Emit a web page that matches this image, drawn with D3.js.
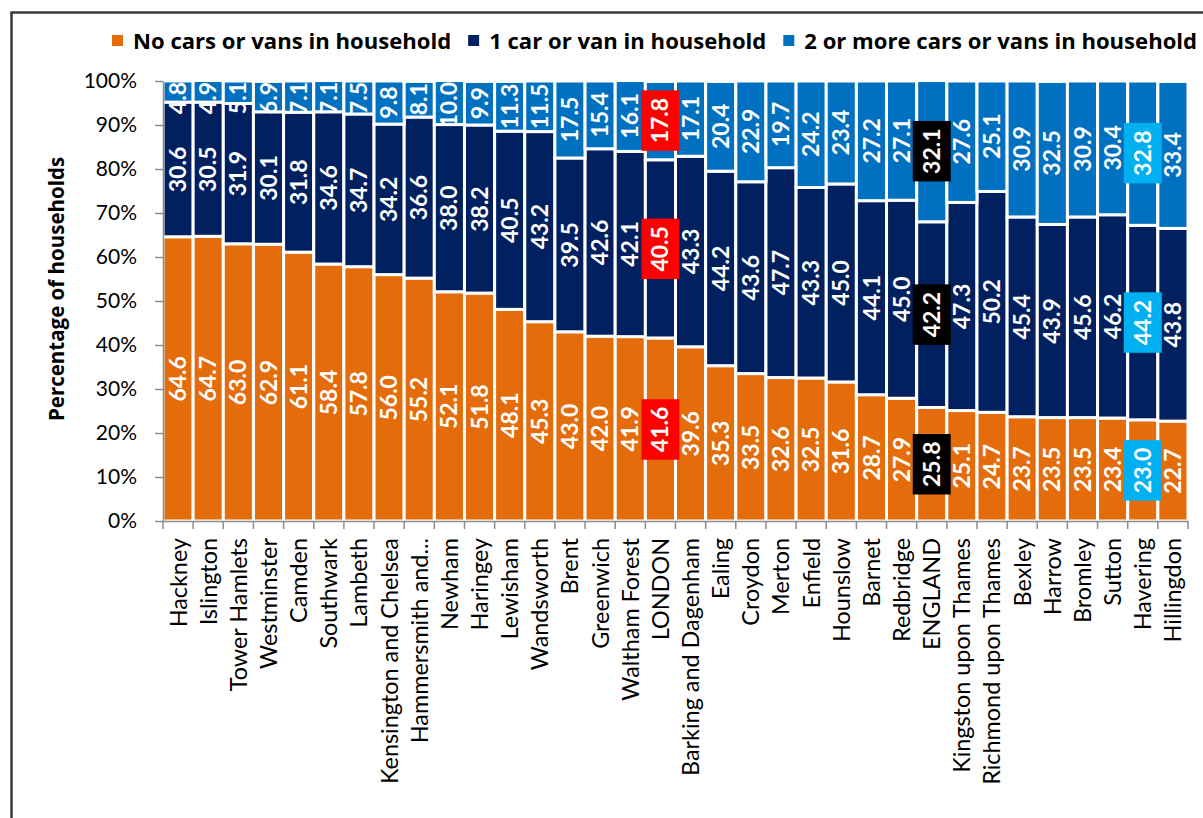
<!DOCTYPE html>
<html>
<head>
<meta charset="utf-8">
<script src="https://cdn.jsdelivr.net/npm/d3@7/dist/d3.min.js"></script>
<style>
  html, body { margin: 0; padding: 0; background: #fff; }
  svg { display: block; font-family: Lato, "Open Sans", sans-serif; }
</style>
</head>
<body>
<script>
// Household car or van availability by borough (per cent of households)
const categories = [
  "Hackney", "Islington", "Tower Hamlets", "Westminster", "Camden", "Southwark",
  "Lambeth", "Kensington and Chelsea", "Hammersmith and...", "Newham", "Haringey",
  "Lewisham", "Wandsworth", "Brent", "Greenwich", "Waltham Forest", "LONDON",
  "Barking and Dagenham", "Ealing", "Croydon", "Merton", "Enfield", "Hounslow",
  "Barnet", "Redbridge", "ENGLAND", "Kingston upon Thames", "Richmond upon Thames",
  "Bexley", "Harrow", "Bromley", "Sutton", "Havering", "Hillingdon"
];
const noCar = [
  64.6, 64.7, 63.0, 62.9, 61.1, 58.4, 57.8, 56.0, 55.2, 52.1, 51.8,
  48.1, 45.3, 43.0, 42.0, 41.9, 41.6, 39.6, 35.3, 33.5, 32.6, 32.5, 31.6,
  28.7, 27.9, 25.8, 25.1, 24.7, 23.7, 23.5, 23.5, 23.4, 23.0, 22.7
];
const oneCar = [
  30.6, 30.5, 31.9, 30.1, 31.8, 34.6, 34.7, 34.2, 36.6, 38.0, 38.2,
  40.5, 43.2, 39.5, 42.6, 42.1, 40.5, 43.3, 44.2, 43.6, 47.7, 43.3, 45.0,
  44.1, 45.0, 42.2, 47.3, 50.2, 45.4, 43.9, 45.6, 46.2, 44.2, 43.8
];
const twoPlusCars = [
  4.8, 4.9, 5.1, 6.9, 7.1, 7.1, 7.5, 9.8, 8.1, 10.0, 9.9,
  11.3, 11.5, 17.5, 15.4, 16.1, 17.8, 17.1, 20.4, 22.9, 19.7, 24.2, 23.4,
  27.2, 27.1, 32.1, 27.6, 25.1, 30.9, 32.5, 30.9, 30.4, 32.8, 33.4
];
const seriesKeys = ["none", "one", "two"];
const seriesLabels = [
  "No cars or vans in household",
  "1 car or van in household",
  "2 or more cars or vans in household"
];
const seriesColors = ["#E46C0A", "#002060", "#0070C0"];
const yTickValues = [0, 10, 20, 30, 40, 50, 60, 70, 80, 90, 100];
// Reference areas whose value labels sit on a coloured box
const highlightColors = { "LONDON": "#FF0000", "ENGLAND": "#000000", "Havering": "#00B0F0" };

const W = 1203, H = 818;
const plot = { left: 163, right: 1188, top: 81, bottom: 521 };

const rows = categories.map((c, i) => ({ cat: c, none: noCar[i], one: oneCar[i], two: twoPlusCars[i] }));
const stacked = d3.stack().keys(seriesKeys)(rows);

const svg = d3.select("body").append("svg").attr("width", W).attr("height", H);
svg.append("rect").attr("width", W).attr("height", H).attr("fill", "#fff");

// frame around the figure
svg.append("path")
  .attr("d", `M11.5,${H} V12.5 H${W}`)
  .attr("fill", "none").attr("stroke", "#3b3b3b").attr("stroke-width", 2.5);

const x = d3.scaleBand().domain(categories).range([plot.left, plot.right]).padding(0);
const y = d3.scaleLinear().domain([0, 100]).range([plot.bottom, plot.top]);
const color = d3.scaleOrdinal().domain(seriesKeys).range(seriesColors);

// stacked bars
const layers = svg.append("g").selectAll("g").data(stacked).join("g")
  .attr("fill", d => color(d.key));
layers.selectAll("rect").data(d => d).join("rect")
  .attr("x", d => x(d.data.cat))
  .attr("width", x.bandwidth())
  .attr("y", d => y(d[1]))
  .attr("height", d => y(d[0]) - y(d[1]))
  .attr("stroke", "#fff").attr("stroke-width", 3);

// y axis
const yAxis = svg.append("g").attr("transform", `translate(${plot.left},0)`)
  .call(d3.axisLeft(y).tickValues(yTickValues).tickFormat(d => d + "%")
    .tickSize(8).tickSizeOuter(0).tickPadding(18));
yAxis.select(".domain").attr("stroke", "#8c8c8c").attr("stroke-width", 1.5);
yAxis.selectAll(".tick line").attr("stroke", "#8c8c8c").attr("stroke-width", 1.5);
yAxis.selectAll(".tick text").attr("font-size", 21).attr("fill", "#000")
  .attr("font-family", "Lato, sans-serif");

// x axis: tick marks at the band edges, labels at the band centres
const xAxis = svg.append("g").attr("transform", `translate(0,${plot.bottom})`)
  .call(d3.axisBottom(x).tickSize(0).tickSizeOuter(0).tickPadding(0));
xAxis.select(".domain").attr("stroke", "#8c8c8c").attr("stroke-width", 1.5);
xAxis.selectAll(".tick text")
  .attr("transform", "rotate(-90)")
  .attr("text-anchor", "end")
  .attr("x", -17).attr("y", 0).attr("dy", "0.36em")
  .attr("font-size", 23.4).attr("fill", "#000")
  .attr("font-family", "Lato, sans-serif");
const edges = categories.map(c => x(c)).concat([x.range()[1]]);
xAxis.append("g").selectAll("line").data(edges).join("line")
  .attr("x1", d => d).attr("x2", d => d)
  .attr("y1", 0).attr("y2", 8)
  .attr("stroke", "#8c8c8c").attr("stroke-width", 1.5);

// value labels, kept inside the plot area
const labelG = svg.append("g");
stacked.forEach(layer => {
  layer.forEach(d => {
    const cx = x(d.data.cat) + x.bandwidth() / 2;
    const val = d.data[layer.key];
    const g = labelG.append("g");
    const t = g.append("text")
      .attr("text-anchor", "middle").attr("dy", "0.35em")
      .attr("font-size", 23).attr("font-weight", 700).attr("fill", "#fff")
      .text(val.toFixed(1));
    const len = t.node().getComputedTextLength();
    let cy = y((d[0] + d[1]) / 2);
    cy = Math.max(cy, plot.top + len / 2 + 1);
    const hc = highlightColors[d.data.cat];
    if (hc) {
      g.insert("rect", "text")
        .attr("x", -(len + 15) / 2).attr("y", -19)
        .attr("width", len + 15).attr("height", 38)
        .attr("fill", hc);
    }
    g.attr("transform", `translate(${cx},${cy}) rotate(-90)`);
  });
});

// y axis title
svg.append("text")
  .attr("transform", `translate(57,289) rotate(-90)`)
  .attr("text-anchor", "middle").attr("dy", "0.35em")
  .attr("font-family", "'Open Sans', sans-serif")
  .attr("font-size", 20.5).attr("font-weight", 700).attr("fill", "#000")
  .text("Percentage of households");

// legend
const legend = svg.append("g").attr("transform", "translate(112,41)");
let lx = 0;
seriesLabels.forEach((lab, i) => {
  const item = legend.append("g").attr("transform", `translate(${lx},0)`);
  item.append("rect").attr("x", 0).attr("y", -6).attr("width", 11).attr("height", 11)
    .attr("fill", seriesColors[i]);
  const tt = item.append("text").attr("x", 21).attr("dy", "0.35em")
    .attr("font-family", "'Open Sans', sans-serif")
    .attr("font-size", 22.1).attr("font-weight", 700).attr("fill", "#000")
    .text(lab);
  lx += 21 + tt.node().getComputedTextLength() + 17;
});
</script>
</body>
</html>
